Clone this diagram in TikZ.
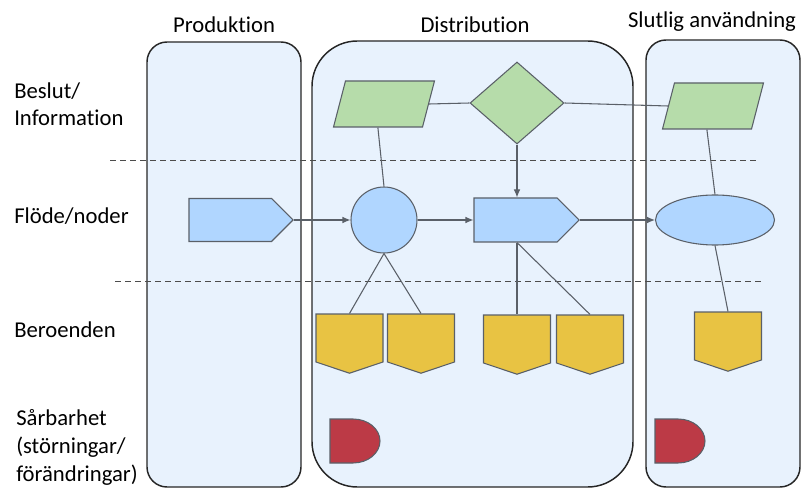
\documentclass[tikz,border=0pt]{standalone}
\usepackage{fontspec}
\setmainfont[Ligatures=NoCommon]{Carlito}
\usetikzlibrary{shapes.geometric,shapes.symbols,arrows.meta}
\definecolor{lanefill}{HTML}{E8F2FD}
\definecolor{infogreen}{HTML}{B6DCAA}
\definecolor{flowblue}{HTML}{B0D6FF}
\definecolor{depyellow}{HTML}{E8C343}
\definecolor{vulnred}{HTML}{BC3A46}
\definecolor{edgegray}{HTML}{5A6068}
\tikzset{
	lane/.style={draw=black!85, line width=1.1pt, fill=lanefill},
	shp/.style={draw=edgegray, line width=0.8pt, inner sep=0pt},
	infobox/.style={shp, fill=infogreen, rectangle, xslant=0.26, transform shape, minimum width=66.75pt, minimum height=34.5pt},
	flowbox/.style={shp, fill=flowblue, signal, signal to=east, signal pointer angle=90},
	depbox/.style={shp, fill=depyellow, signal, signal to=south, signal pointer angle=143, minimum width=50.25pt, minimum height=36pt},
	link/.style={draw=edgegray, line width=0.8pt},
	sep/.style={draw=black!70, line width=0.7pt, dash pattern=on 4.5pt off 3pt},
	lbl/.style={font=\fontsize{17}{20}\selectfont, inner sep=0pt}
}
\begin{document}
\begin{tikzpicture}[x=0.75pt, y=-0.75pt]
		\useasboundingbox (0,0) rectangle (803,488);
		% lanes
		\draw[lane, rounded corners=15pt] (147,42) rectangle (301,487);
		\draw[lane, rounded corners=34pt] (312,41) rectangle (633,487);
		\draw[lane, rounded corners=15pt] (646,40) rectangle (800,487);
		\node[lbl] (tprod) at (224,25) {Produktion};
		\node[lbl] (tdist) at (475,25) {Distribution};
		\node[lbl] (tend) at (712,22) {Slutlig användning};
		% row labels
		\node[lbl, anchor=west, align=left] (rinfo) at (14,104) {Beslut/\\Information};
		\node[lbl, anchor=west] (rflow) at (14,216) {Flöde/noder};
		\node[lbl, anchor=west] (rdep) at (14,330) {Beroenden};
		\node[lbl, anchor=north west, align=left, font=\fontsize{17}{21}\selectfont] (rvuln) at (16,409) {Sårbarhet\\(störningar/\\förändringar)};
		% dashed separators
		\draw[sep] (110,160) -- (758,160);
		\draw[sep] (115,281) -- (763,281);
		% information row
		\node[infobox] (info1) at (384,104) {};
		\node[shp, fill=infogreen, diamond, minimum width=70.5pt, minimum height=61.5pt] (dec) at (517,103) {};
		\node[infobox] (info2) at (713,106) {};
		% flow row
		\node[flowbox, minimum width=78pt, minimum height=32.25pt] (prod) at (230.25,220) {};
		\node[shp, fill=flowblue, circle, minimum size=49.5pt] (hub) at (384,220) {};
		\node[flowbox, minimum width=78.75pt, minimum height=33pt] (dist) at (515.5,220) {};
		\node[shp, fill=flowblue, ellipse, minimum width=89.25pt, minimum height=37.5pt] (use) at (715,220) {};
		% dependencies
		\node[depbox] (dep1) at (349.5,338) {};
		\node[depbox] (dep2) at (421,338) {};
		\node[depbox] (dep3) at (517,339) {};
		\node[depbox] (dep4) at (590,339) {};
		\node[depbox] (dep5) at (728,336) {};
		% vulnerabilities
		\draw[shp, fill=vulnred] (330,419) -- (353,419) arc[start angle=90, end angle=-90, x radius=20.25pt, y radius=16.5pt] -- (330,463) -- cycle;
		\draw[shp, fill=vulnred] (655,419) -- (678,419) arc[start angle=90, end angle=-90, x radius=20.25pt, y radius=16.5pt] -- (655,463) -- cycle;
		% connectors
		\coordinate (distbot) at (dec.south |- dist.south);
		\draw[link] (info1.east) -- (dec.west);
		\draw[link] (dec.east) -- (info2.west);
		\draw[link] (info1.south) -- (hub.north);
		\draw[link] (info2.south) -- (use.north);
		\draw[link, -{Latex[length=6pt,width=5pt]}] (dec.south) -- (dec.south |- dist.north);
		\draw[link, -{Latex[length=6pt,width=5pt]}] (prod.east) -- (hub.west);
		\draw[link, -{Latex[length=6pt,width=5pt]}] (hub.east) -- (dist.west);
		\draw[link, -{Latex[length=6pt,width=5pt]}] (dist.east) -- (use.west);
		\draw[link] (hub.south) -- (dep1.north);
		\draw[link] (hub.south) -- (dep2.north);
		\draw[link] (distbot) -- (dep3.north);
		\draw[link] (distbot) -- (dep4.north);
		\draw[link] (use.south) -- (dep5.north);
	\end{tikzpicture}
\end{document}
